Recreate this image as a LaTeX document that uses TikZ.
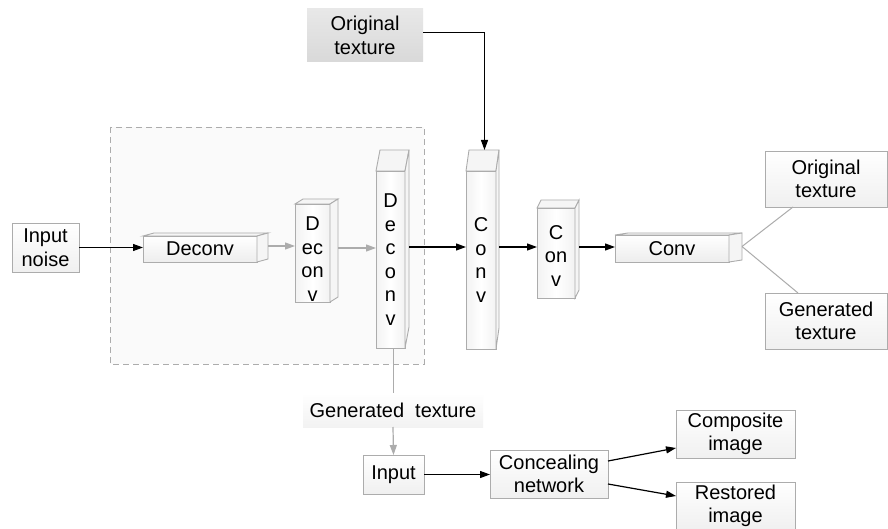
\documentclass[tikz,border=0pt]{standalone}
\usepackage{fontspec}
\setmainfont{Liberation Sans}
\usetikzlibrary{arrows.meta,calc}
\newcommand\drawdepth[3]{%
  \filldraw[face] (#1.north west) -- (#1.north east) -- ++(#2,#3) -- ($(#1.north west)+(#2,#3)$) -- cycle;
  \filldraw[face] (#1.north east) -- (#1.south east) -- ++(#2,#3) -- ($(#1.north east)+(#2,#3)$) -- cycle;
  \coordinate (#1side) at ($(#1.east)+(#2,#3)$);
  \coordinate (#1top) at ($(#1.north)+(#2,#3)$);
}
\begin{document}
\begin{tikzpicture}[x=1pt,y=-1pt,
  font=\fontsize{20}{23.5}\selectfont,
  every node/.style={inner sep=0pt, outer sep=0pt, align=center, text=black},
  plainbox/.style={draw=gray!65, line width=0.9pt, top color=white, bottom color=gray!12},
  hfront/.style={draw=gray!65, line width=0.9pt, top color=white, bottom color=gray!14},
  vfront/.style={draw=gray!65, line width=0.9pt, left color=gray!10, right color=gray!10, middle color=white},
  face/.style={draw=gray!65, line width=0.9pt, fill=gray!8},
  arr/.style={line width=1.2pt, black, -{Triangle[length=10pt,width=7pt]}},
  garr/.style={line width=1.2pt, gray!65, -{Triangle[length=10pt,width=7pt]}},
  gline/.style={line width=1pt, gray!65},
]
\useasboundingbox (0,0) rectangle (888,529);
\fill[white] (0,0) rectangle (888,529);

% dashed region
\filldraw[draw=gray!65, fill=gray!4, line width=0.9pt, dash pattern=on 6pt off 4pt] (110,127) rectangle (424,364);

\coordinate (mid) at (0,247);

% nodes
\node[plainbox, minimum width=67pt, minimum height=49pt] (noise) at (45.5,247.5) {Input\\noise};
\node[hfront, minimum width=114pt, minimum height=26pt] (d1) at (200,249) {Deconv};
\drawdepth{d1}{11}{-3}
\node[vfront, minimum width=35pt, minimum height=98pt,
      label={[yshift=-6pt, name=d2text]center:{D\\ec\\on\\v}}] (d2) at (312.5,253) {};
\drawdepth{d2}{8}{-5}
\node[vfront, minimum width=29pt, minimum height=177pt] (d3) at (390.5,259.5) {D\\e\\c\\o\\n\\v};
\drawdepth{d3}{4}{-21}
\node[vfront, minimum width=30pt, minimum height=178pt] (c1) at (481,260) {C\\o\\n\\v};
\drawdepth{c1}{3}{-21}
\node[vfront, minimum width=38pt, minimum height=90pt,
      label={[yshift=-3pt, name=c2text]center:{C\\on\\v}}] (c2) at (556,253) {};
\drawdepth{c2}{4}{-8}
\node[hfront, minimum width=114pt, minimum height=27pt] (c3) at (672,248.5) {Conv};
\drawdepth{c3}{13}{-2}

\node[top color=gray!18, bottom color=gray!30, minimum width=116pt, minimum height=53pt] (origtop) at (365,35.5) {Original\\texture};
\node[plainbox, minimum width=122pt, minimum height=56pt] (origR) at (826,179) {Original\\texture};
\node[plainbox, minimum width=122pt, minimum height=56pt] (genR) at (826,321) {Generated\\texture};

\node[top color=white, bottom color=gray!10, minimum width=180pt, minimum height=34pt] (gen) at (393,410) {Generated\ \ texture};
\node[plainbox, minimum width=61pt, minimum height=39pt] (inp) at (393.5,474.5) {Input};
\node[plainbox, minimum width=118pt, minimum height=48pt] (conc) at (549,474) {Concealing\\network};
\node[plainbox, minimum width=119pt, minimum height=48pt] (comp) at (735.5,434) {Composite\\image};
\node[plainbox, minimum width=119pt, minimum height=48pt] (rest) at (735.5,506) {Restored\\image};

% connectors
\draw[arr] (noise.east) -- (noise.east -| d1.west);
\draw[garr] (d1side) -- (d1side -| d2.west);
\draw[garr] (d2side) -- (d2side -| d3.west);
\draw[arr] ($(d3.east |- mid)+(4,0)$) -- (c1.west |- mid);
\draw[arr] ($(c1.east |- mid)+(3,0)$) -- (c2.west |- mid);
\draw[arr] ($(c2.east |- mid)+(4,0)$) -- (c3.west |- mid);
\draw[arr] ([yshift=3pt]origtop.east) -| ($(c1top)+(0.5,0)$);
\draw[gline] (c3side) -- ([xshift=28pt]origR.south west);
\draw[gline] (c3side) -- ([xshift=33pt]genR.north west);
\draw[gline] (gen.north |- d3.south) -- (gen.north);
\draw[garr] (gen.south) -- (inp.north);
\draw[arr] (inp.east) -- (inp.east -| conc.west);
\draw[arr] ([yshift=13pt]conc.east) -- ([yshift=-14pt]comp.west);
\draw[arr] ([yshift=-10pt]conc.east) -- ([yshift=10pt]rest.west);
\end{tikzpicture}
\end{document}
